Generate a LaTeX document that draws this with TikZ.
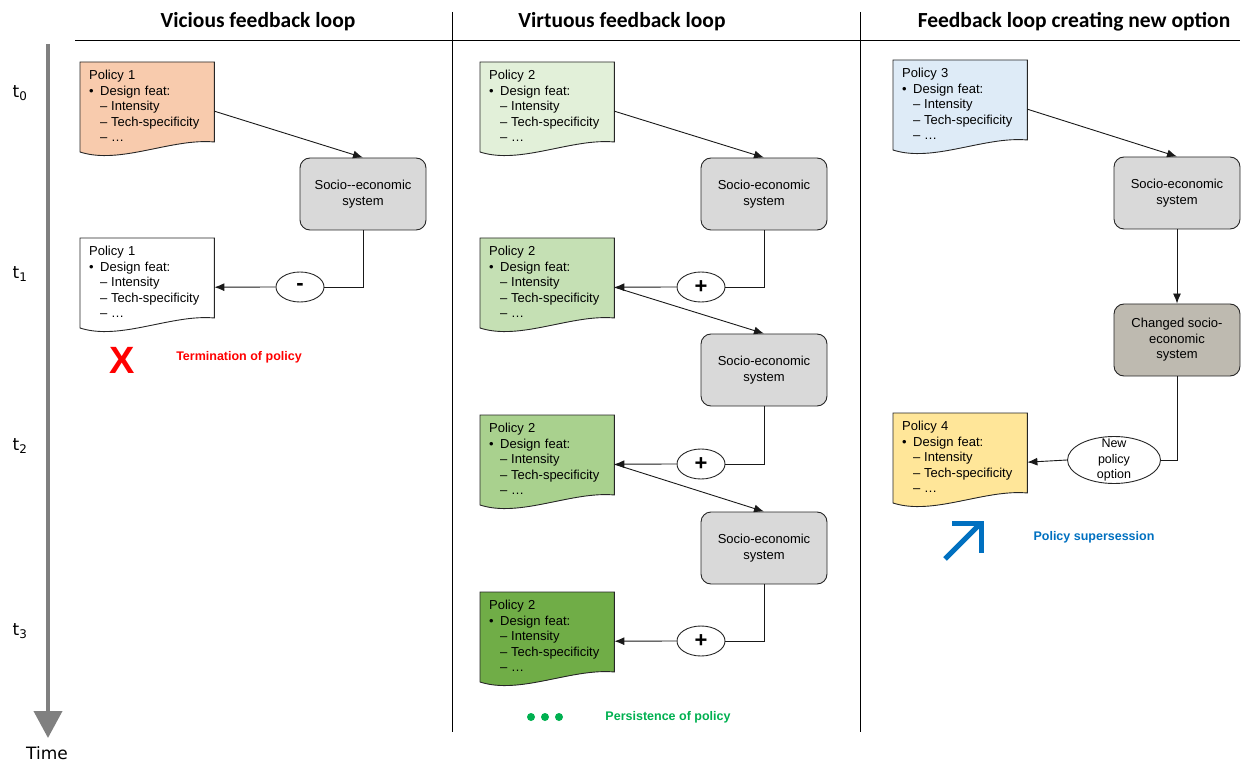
\documentclass[tikz,border=0pt]{standalone}
\usepackage{fontspec}
\setmainfont{Liberation Sans}
\newfontfamily\headfont{Carlito}
\newfontfamily\timefont{DejaVu Sans}
\usetikzlibrary{arrows.meta,backgrounds,calc,shapes.geometric}

\definecolor{docorange}{HTML}{F8CBAD}
\definecolor{docgreenA}{HTML}{E2F0D9}
\definecolor{docgreenB}{HTML}{C5E0B4}
\definecolor{docgreenC}{HTML}{A9D18E}
\definecolor{docgreenD}{HTML}{70AD47}
\definecolor{docblue}{HTML}{DEEBF7}
\definecolor{docyellow}{HTML}{FFE699}
\definecolor{sysgray}{HTML}{D9D9D9}
\definecolor{systaupe}{RGB}{190,186,176}
\definecolor{axisgray}{HTML}{808080}
\definecolor{persgreen}{HTML}{00B050}
\definecolor{superblue}{HTML}{0070C0}

\newcommand{\policytext}[1]{Policy #1\\
\makebox[11pt][l]{\textbullet}Design feat:\\
\hspace*{11pt}\makebox[11pt][l]{\textendash}Intensity\\
\hspace*{11pt}\makebox[11pt][l]{\textendash}Tech-specificity\\
\hspace*{11pt}\makebox[11pt][l]{\textendash}\dots}

\newcommand{\docoutline}[2]{%
  \begin{scope}[on background layer]
    \filldraw[docline, fill=#2] (#1.north west) -- (#1.north east) -- ++(0,80)
      .. controls +(-43,-4) and +(40,13) .. ($(#1.north west)+(0,90)$) -- cycle;
  \end{scope}}

\begin{document}
\begin{tikzpicture}[x=1pt,y=-1pt,
    >={Latex[length=10pt,width=8pt]},
    policy/.style={rectangle, anchor=north west, inner xsep=9pt, inner ysep=4pt,
      text width=116pt, align=left, text height=13.5pt, text depth=76.5pt,
      font=\fontsize{13}{15.5}\selectfont},
    docline/.style={draw=black!85, line width=0.9pt},
    sys/.style={rectangle, rounded corners=10pt, draw=black!85, line width=0.9pt,
      fill=sysgray, minimum width=126, minimum height=72, align=center,
      font=\fontsize{13}{15.5}\selectfont},
    sign/.style={ellipse, draw=black!85, line width=0.9pt, fill=white,
      minimum width=48, minimum height=30, inner sep=0pt,
      font=\fontsize{22}{22}\selectfont\bfseries},
    flow/.style={->, draw=black!90, line width=0.9pt},
    link/.style={draw=black!90, line width=0.9pt},
    rule/.style={draw=black, line width=0.9pt},
    head/.style={font=\headfont\fontsize{21.5}{24}\selectfont\bfseries},
    tlabel/.style={font=\timefont\fontsize{17}{20}\selectfont},
    note/.style={font=\fontsize{12.5}{14}\selectfont\bfseries}]
\useasboundingbox (0,0) rectangle (1248,767);

\node[head] (h1) at (258,22) {Vicious feedback loop};
\node[head] (h2) at (622,22) {Virtuous feedback loop};
\node[head] (h3) at (1074,22) {Feedback loop creating new option};
\draw[rule] (75,40) -- (1240,40);
\draw[rule] (452,12) -- (452,732);
\draw[rule] (860,12) -- (860,732);

\coordinate (axtop) at (48,44);
\coordinate (axend) at (48,738);
\draw[draw=axisgray, line width=4pt, -{Triangle[length=27pt,width=28pt]}] (axtop) -- (axend);
\node[tlabel] (t0) at (20,93) {t\textsubscript{0}};
\node[tlabel] (t1) at (20,274) {t\textsubscript{1}};
\node[tlabel] (t2) at (20,446) {t\textsubscript{2}};
\node[tlabel] (t3) at (20,631) {t\textsubscript{3}};
\node[tlabel] (time) at (47,753) {Time};

\node[policy] (p1a) at (80,62) {\policytext{1}};
\docoutline{p1a}{docorange}
\node[sys] (s1) at (363,194) {Socio-{}-economic\\system};
\node[policy] (p1b) at (80,238) {\policytext{1}};
\docoutline{p1b}{white}
\node[sign] (m1) at (300,287) {-};
\draw[flow] (p1a.east) -- (s1.north);
\draw[link] (s1.south) |- (m1.east);
\draw[flow] (m1.west) -- (p1b.east);
\node[text=red, font=\fontsize{38}{38}\selectfont\bfseries] (x1) at (122,360) {X};
\node[note, text=red] (n1) at (239,357) {Termination of policy};

\node[policy] (p2a) at (480,62) {\policytext{2}};
\docoutline{p2a}{docgreenA}
\node[sys] (s2a) at (764,194) {Socio-economic\\system};
\node[policy] (p2b) at (480,238) {\policytext{2}};
\docoutline{p2b}{docgreenB}
\node[sign] (m2a) at (701,287) {+};
\node[sys] (s2b) at (764,370) {Socio-economic\\system};
\node[policy] (p2c) at (480,415) {\policytext{2}};
\docoutline{p2c}{docgreenC}
\node[sign] (m2b) at (701,464) {+};
\node[sys] (s2c) at (764,548) {Socio-economic\\system};
\node[policy] (p2d) at (480,592) {\policytext{2}};
\docoutline{p2d}{docgreenD}
\node[sign] (m2c) at (701,641) {+};
\draw[flow] (p2a.east) -- (s2a.north);
\draw[link] (s2a.south) |- (m2a.east);
\draw[flow] (m2a.west) -- (p2b.east);
\draw[flow] (p2b.east) -- (s2b.north);
\draw[link] (s2b.south) |- (m2b.east);
\draw[flow] (m2b.west) -- (p2c.east);
\draw[flow] (p2c.east) -- (s2c.north);
\draw[link] (s2c.south) |- (m2c.east);
\draw[flow] (m2c.west) -- (p2d.east);
\foreach \x in {531,545,559}
  \fill[persgreen] (\x,717) circle[radius=4pt];
\node[note, text=persgreen] (n2) at (668,717) {Persistence of policy};

\node[policy] (p3) at (893,60) {\policytext{3}};
\docoutline{p3}{docblue}
\node[sys] (s3) at (1177,193) {Socio-economic\\system};
\node[sys, fill=systaupe] (c3) at (1177,340) {Changed socio-\\economic\\system};
\node[policy] (p4) at (893,413) {\policytext{4}};
\docoutline{p4}{docyellow}
\node[sign, minimum width=93, minimum height=47,
  label={[align=center, font=\fontsize{12.5}{15.5}\selectfont]center:New\\policy\\option}] (m3) at (1114,460) {};
\draw[flow] (p3.east) -- (s3.north);
\draw[flow] (s3.south) -- (c3.north);
\draw[link] (c3.south) |- (m3.east);
\draw[flow] (m3.west) -- (p4.east);
\draw[superblue, line width=5pt] (945,559) -- (981,523);
\draw[superblue, line width=5pt] (952,523) -- (981,523) -- (981,553);
\node[note, text=superblue] (n3) at (1094,537) {Policy supersession};
\end{tikzpicture}
\end{document}
